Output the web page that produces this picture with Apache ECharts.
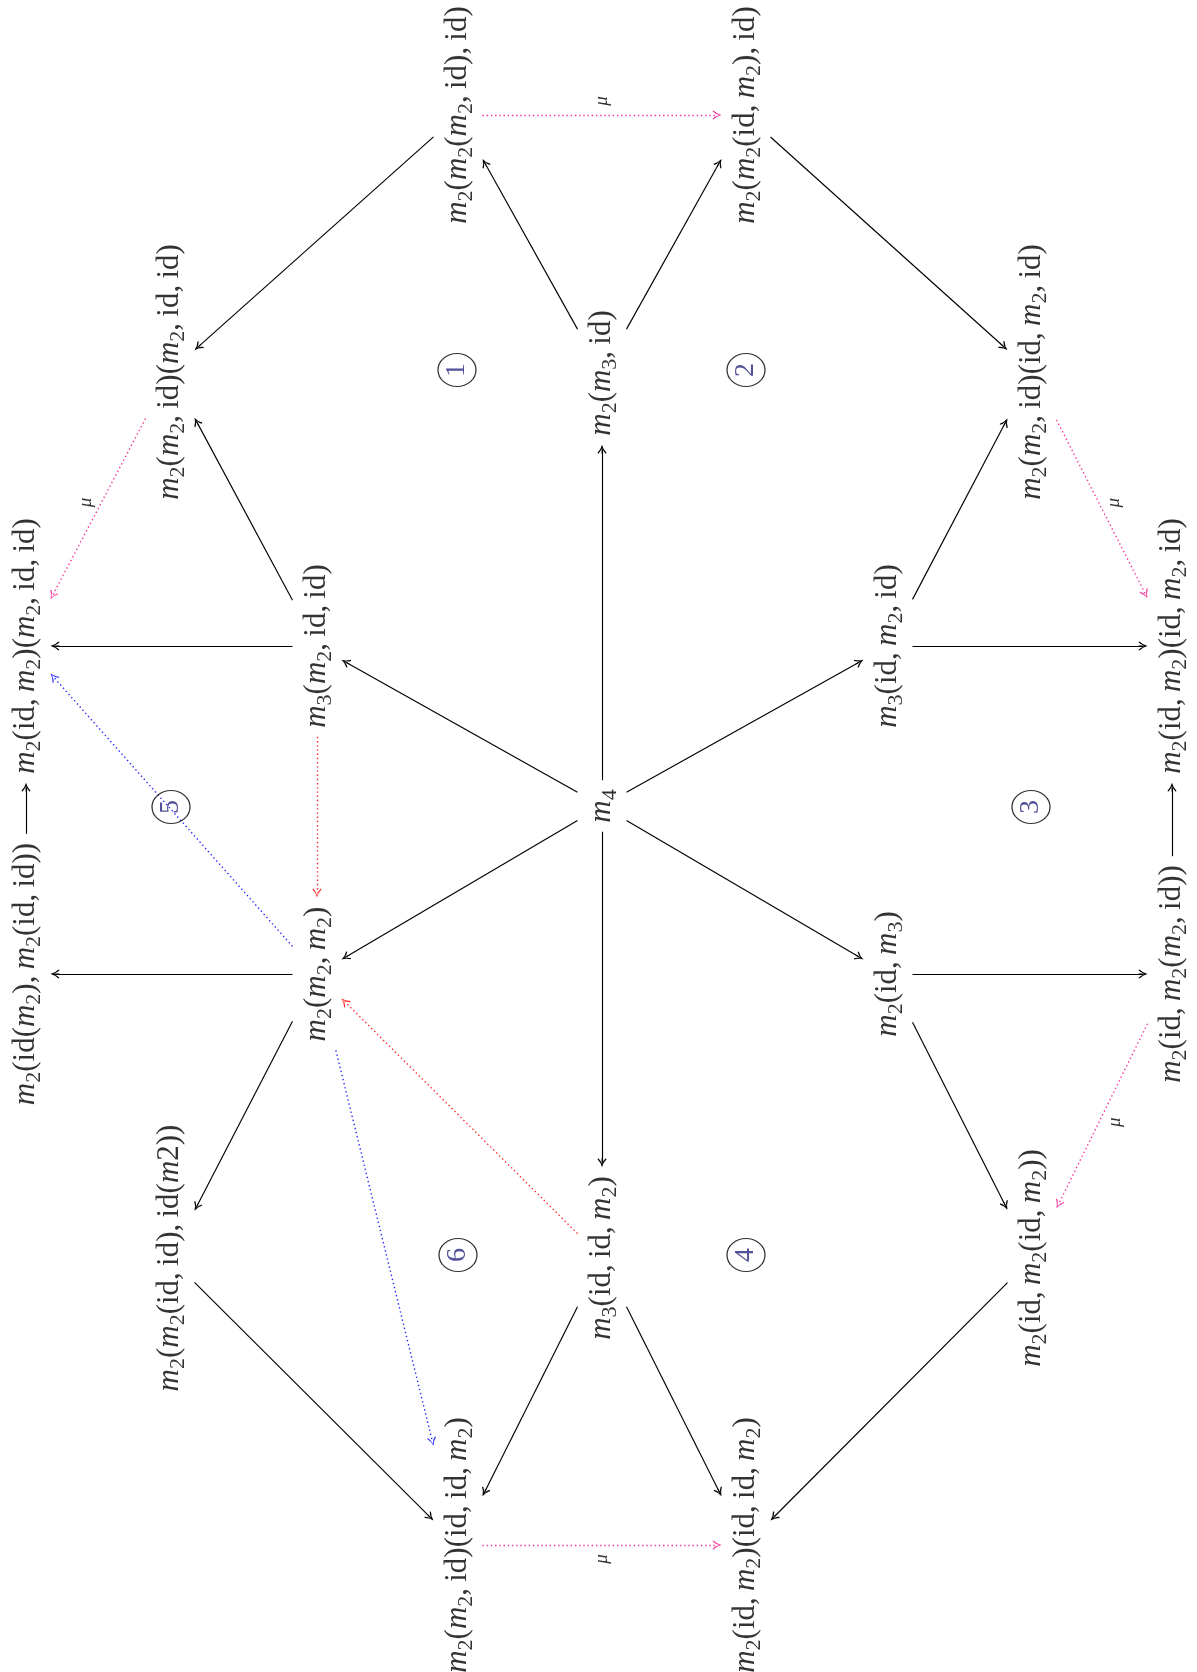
<!DOCTYPE html>
<html>
<head>
<meta charset="utf-8">
<script src="https://cdn.jsdelivr.net/npm/echarts@6.0.0/dist/echarts.min.js"></script>
<style>
  html, body { margin: 0; padding: 0; background: #fff; }
  #chart { width: 1197px; height: 1672px; }
</style>
</head>
<body>
<div id="chart"></div>
<script>
// diagram nodes ("m_2" = m with subscript 2), page is turned, text reads bottom -> top
const nodeNames = [
  'm_4',
  'm_2(m_3, id)',
  'm_3(m_2, id, id)',
  'm_3(id, m_2, id)',
  'm_2(m_2, m_2)',
  'm_2(id, m_3)',
  'm_3(id, id, m_2)',
  'm_2(m_2(m_2, id), id)',
  'm_2(m_2(id, m_2), id)',
  'm_2(m_2, id)(m_2, id, id)',
  'm_2(m_2, id)(id, m_2, id)',
  'm_2(id, m_2)(m_2, id, id)',
  'm_2(id, m_2)(id, m_2, id)',
  'm_2(id(m_2), m_2(id, id))',
  'm_2(id, m_2(m_2, id))',
  'm_2(m_2(id, id), id(m2))',
  'm_2(id, m_2(id, m_2))',
  'm_2(m_2, id)(id, id, m_2)',
  'm_2(id, m_2)(id, id, m_2)'
];
const nodeX = [602, 602, 317, 888, 317, 888, 602, 458, 746, 170, 1032, 26, 1172, 26, 1172, 170, 1032, 458, 746];
const nodeY = [806, 373, 646, 646, 974, 974, 1258, 115, 115, 372, 372, 646, 646, 974, 974, 1258, 1258, 1545, 1545];

// arrows as [from, to]
const blackEdges = [
  [0, 1], [0, 2], [0, 3], [0, 4], [0, 5], [0, 6],
  [1, 7], [1, 8], [7, 9], [8, 10], [2, 9], [3, 10],
  [2, 11], [3, 12], [4, 13], [5, 14], [13, 11], [14, 12],
  [4, 15], [5, 16], [15, 17], [16, 18], [6, 17], [6, 18]
];
const muEdges = [[7, 8], [9, 11], [10, 12], [14, 16], [17, 18]];
const muSide = [1, -1, 1, 1, -1];
const redEdges = [[2, 4], [6, 4]];
const blueEdges = [[4, 11], [4, 17]];

// circled cell numbers
const circleNames = ['1', '2', '3', '4', '5', '6'];
const circleX = [457, 746, 1031, 746, 171, 458];
const circleY = [370, 370, 807, 1255, 807, 1255];

const FONT = 'Liberation Serif';
const FS = 31, SUB = 22, LH = 37;
const SEP = 9, BOX_X = LH / 2 + 6;
const HEAD_LEN = 9;

function toTokens(s) {
  const out = [];
  let buf = '';
  const flush = () => { if (buf) { out.push(['n', buf]); buf = ''; } };
  for (let i = 0; i < s.length; i++) {
    const c = s[i];
    if (c === 'm') { flush(); out.push(['i', 'm']); }
    else if (c === '_') { flush(); out.push(['s', s[i + 1]]); i++; }
    else if (c === ' ') buf += '\u2009';   // thin space after commas, as in TeX
    else buf += c;
  }
  flush();
  return out;
}
function toRich(s) {
  return toTokens(s).map(t => '{' + t[0] + '|' + t[1] + '}').join('');
}

const ctx = document.createElement('canvas').getContext('2d');
const fontOf = { n: FS + 'px "' + FONT + '"', i: 'italic ' + FS + 'px "' + FONT + '"', s: SUB + 'px "' + FONT + '"' };
function textWidth(s) {
  return toTokens(s).reduce((w, t) => {
    ctx.font = fontOf[t[0]];
    return w + ctx.measureText(t[1]).width;
  }, 0);
}
const halfLen = nodeNames.map(n => textWidth(n) / 2 + SEP);

function exitDist(k, ux, uy) {
  const tx = Math.abs(ux) > 1e-9 ? BOX_X / Math.abs(ux) : Infinity;
  const ty = Math.abs(uy) > 1e-9 ? halfLen[k] / Math.abs(uy) : Infinity;
  return Math.min(tx, ty);
}
function segment(a, b) {
  const dx = nodeX[b] - nodeX[a], dy = nodeY[b] - nodeY[a];
  const len = Math.hypot(dx, dy);
  const ux = dx / len, uy = dy / len;
  const da = exitDist(a, ux, uy), db = exitDist(b, ux, uy);
  const start = [nodeX[a] + ux * da, nodeY[a] + uy * da];
  const tip = [nodeX[b] - ux * db, nodeY[b] - uy * db];
  return { start, tip, ux, uy };
}
function lineData(edges) {
  return edges.map(e => {
    const s = segment(e[0], e[1]);
    return { coords: [s.start, [s.tip[0] - s.ux * HEAD_LEN / 2, s.tip[1] - s.uy * HEAD_LEN / 2]] };
  });
}

// open "to" arrow head, tip up
const headSolid = 'path://M6 0 Q7.6 5 12 8.2 L11 9.2 Q7.4 6.8 6.55 3.6 L6.55 9.2 L5.45 9.2 L5.45 3.6 Q4.6 6.8 1 9.2 L0 8.2 Q4.4 5 6 0 Z';
const headDot = 'path://M6 0 Q7.6 5 12 8.2 L11 9.2 Q7.4 6.8 6 2.2 Q4.6 6.8 1 9.2 L0 8.2 Q4.4 5 6 0 Z';

function arrowSeries(edges, color, dotted) {
  return {
    type: 'lines',
    coordinateSystem: 'cartesian2d',
    silent: true,
    z: 2,
    symbol: ['none', dotted ? headDot : headSolid],
    symbolSize: [12, HEAD_LEN],
    lineStyle: {
      color: color,
      width: dotted ? 1.4 : 1.15,
      opacity: 1,
      curveness: 0,
      type: dotted ? [1.4, 2.8] : 'solid'
    },
    data: lineData(edges)
  };
}

const muData = muEdges.map((e, i) => {
  const s = segment(e[0], e[1]);
  const mx = (s.start[0] + s.tip[0]) / 2, my = (s.start[1] + s.tip[1]) / 2;
  const nx = s.uy, ny = -s.ux;
  return { name: 'μ', value: [mx + muSide[i] * nx * 14, my + muSide[i] * ny * 14] };
});

const richStyle = {
  n: { fontFamily: FONT, fontSize: FS, color: '#000', lineHeight: LH, verticalAlign: 'middle' },
  i: { fontFamily: FONT, fontSize: FS, fontStyle: 'italic', color: '#000', lineHeight: LH, verticalAlign: 'middle' },
  s: { fontFamily: FONT, fontSize: SUB, color: '#000', height: LH - 0.51 * FS, verticalAlign: 'bottom' }
};

const chart = echarts.init(document.getElementById('chart'));
chart.setOption({
  animation: false,
  backgroundColor: '#fff',
  grid: { left: 0, right: 0, top: 0, bottom: 0 },
  xAxis: { type: 'value', min: 0, max: 1197, show: false },
  yAxis: { type: 'value', min: 0, max: 1672, inverse: true, show: false },
  series: [
    arrowSeries(blackEdges, '#000', false),
    arrowSeries(muEdges, '#f5359b', true),
    arrowSeries(redEdges, '#ff2b2b', true),
    arrowSeries(blueEdges, '#2b2bff', true),
    {
      type: 'scatter',
      silent: true,
      z: 3,
      symbolSize: 1,
      itemStyle: { color: 'rgba(0,0,0,0)' },
      label: {
        show: true,
        position: 'inside',
        rotate: 90,
        lineHeight: LH,
        formatter: p => toRich(p.name),
        rich: richStyle
      },
      data: nodeNames.map((n, i) => ({ name: n, value: [nodeX[i], nodeY[i]] }))
    },
    {
      type: 'scatter',
      silent: true,
      z: 3,
      symbolSize: 1,
      itemStyle: { color: 'rgba(0,0,0,0)' },
      label: {
        show: true,
        position: 'inside',
        rotate: 90,
        fontFamily: FONT,
        fontStyle: 'italic',
        fontSize: 19,
        color: '#000',
        formatter: p => p.name
      },
      data: muData
    },
    {
      type: 'scatter',
      silent: true,
      z: 3,
      symbol: 'circle',
      symbolSize: [38, 33],
      itemStyle: { color: 'rgba(0,0,0,0)', borderColor: '#000', borderWidth: 1.2 },
      label: {
        show: true,
        position: 'inside',
        rotate: 90,
        fontFamily: FONT,
        fontSize: 28,
        color: '#262680',
        formatter: p => p.name
      },
      data: circleNames.map((n, i) => ({ name: n, value: [circleX[i], circleY[i]] }))
    }
  ]
});
</script>
</body>
</html>
